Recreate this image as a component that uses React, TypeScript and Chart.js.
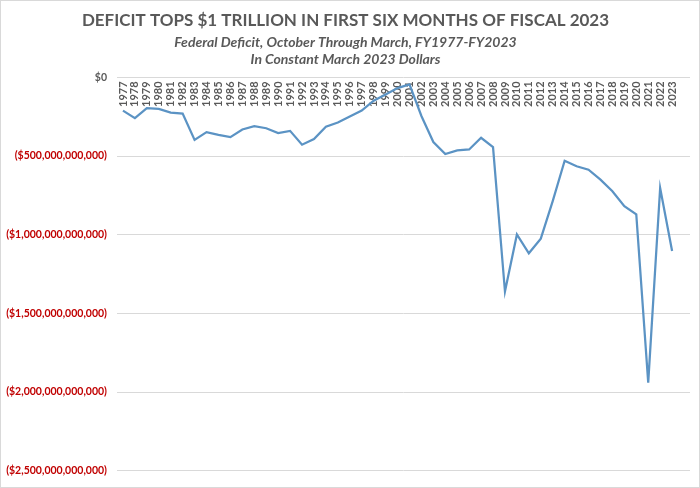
import React, { useEffect, useRef } from 'react';
import Chart from 'chart.js/auto';

const years: number[] = [
  1977, 1978, 1979, 1980, 1981, 1982, 1983, 1984, 1985, 1986, 1987, 1988,
  1989, 1990, 1991, 1992, 1993, 1994, 1995, 1996, 1997, 1998, 1999, 2000,
  2001, 2002, 2003, 2004, 2005, 2006, 2007, 2008, 2009, 2010, 2011, 2012,
  2013, 2014, 2015, 2016, 2017, 2018, 2019, 2020, 2021, 2022, 2023,
];

// deficit, billions of March 2023 dollars
const deficitBillions: number[] = [
  -211, -259, -196, -200, -224, -230, -397, -348, -365, -380, -331, -310,
  -323, -354, -340, -428, -392, -314, -287, -249, -211, -148, -108, -68,
  -44, -245, -411, -487, -464, -458, -384, -443, -1361, -998, -1118, -1025,
  -787, -530, -565, -587, -650, -724, -819, -871, -1941, -703, -1103,
];

const yTicks: number[] = [0, -500e9, -1000e9, -1500e9, -2000e9, -2500e9];

const title = 'DEFICIT TOPS $1 TRILLION IN FIRST SIX MONTHS OF FISCAL 2023';
const subtitle = [
  'Federal Deficit, October Through March, FY1977-FY2023',
  'In Constant March 2023 Dollars',
];

const FONT = 'Lato';

function dollars(v: number) {
  if (v === 0) return '$0';
  const s = '$' + Math.abs(v).toLocaleString('en-US');
  return v < 0 ? '(' + s + ')' : s;
}

export default function App() {
  const canvasRef = useRef<HTMLCanvasElement>(null);

  useEffect(() => {
    document.body.style.margin = '0';
    const canvas = canvasRef.current;
    if (!canvas) return;
    const ctx = canvas.getContext('2d');
    if (!ctx) return;

    const chart = new Chart(ctx, {
      type: 'line',
      data: {
        datasets: [
          {
            data: years.map((y, i) => ({ x: y, y: deficitBillions[i] * 1e9 })),
            borderColor: '#5B93C4',
            borderWidth: 2.25,
            pointRadius: 0,
            tension: 0,
          },
        ],
      },
      options: {
        animation: false,
        responsive: true,
        maintainAspectRatio: false,
        layout: { padding: { left: 0, right: 9, top: 0, bottom: 6 } },
        plugins: {
          legend: { display: false },
          tooltip: { enabled: false },
          title: {
            display: true,
            text: title,
            color: '#595959',
            font: { family: FONT, size: 17, weight: 'bold' },
            padding: { top: 9, bottom: 3 },
          },
          subtitle: {
            display: true,
            text: subtitle,
            color: '#595959',
            font: { family: FONT, size: 14, weight: 'bold', style: 'italic', lineHeight: 1.25 },
            padding: { top: 0, bottom: 9 },
          },
        },
        scales: {
          x: {
            type: 'linear',
            position: { y: 0 },
            min: 1976.5,
            max: 2024.5,
            afterBuildTicks: (axis: any) => {
              axis.ticks = years.map((v) => ({ value: v }));
            },
            grid: { display: false, drawTicks: false },
            border: { display: false },
            ticks: {
              autoSkip: false,
              minRotation: 90,
              maxRotation: 90,
              padding: 4,
              color: '#595959',
              font: { family: FONT, size: 11, weight: 'bold' },
              callback: (v: any) => String(v),
            },
          },
          y: {
            min: -2500e9,
            max: 0,
            afterBuildTicks: (axis: any) => {
              axis.ticks = yTicks.map((v) => ({ value: v }));
            },
            afterFit: (axis: any) => {
              axis.width = 116;
            },
            grid: { color: '#d9d9d9', lineWidth: 1, drawTicks: false },
            border: { display: false },
            ticks: {
              padding: 10,
              color: (c: any) => (c.tick && c.tick.value === 0 ? '#595959' : '#C00000'),
              font: { family: FONT, size: 10.5, weight: 'bold' },
              callback: (v: any) => dollars(Number(v)),
            },
          },
        },
      },
    });
    return () => {
      chart.destroy();
    };
  }, []);

  return (
    <div
      style={{
        width: 700,
        height: 488,
        boxSizing: 'border-box',
        border: '1px solid #d9d9d9',
        background: '#fff',
        position: 'relative',
      }}
    >
      <canvas ref={canvasRef} />
    </div>
  );
}
